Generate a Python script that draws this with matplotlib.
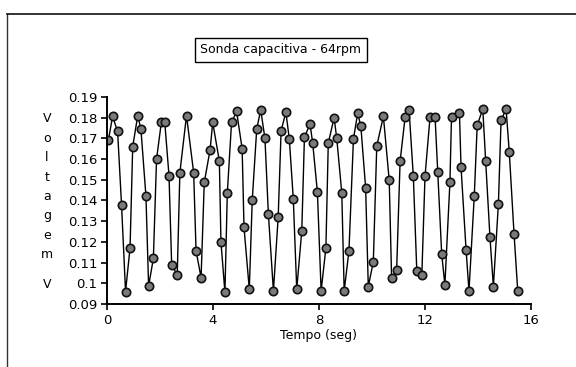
import matplotlib.pyplot as plt
from matplotlib.lines import Line2D

# Capacitive probe reading at 64 rpm (time in s, voltage in V)
tempo = [0.05, 0.21, 0.40, 0.55, 0.70, 0.87, 0.97, 1.16, 1.28, 1.47,
         1.57, 1.75, 1.87, 2.05, 2.18, 2.34, 2.44, 2.65, 2.75, 3.00,
         3.27, 3.36, 3.55, 3.67, 3.89, 3.99, 4.24, 4.30, 4.45, 4.54,
         4.70, 4.89, 5.10, 5.17, 5.37, 5.48, 5.65, 5.80, 5.96, 6.09,
         6.28, 6.46, 6.57, 6.75, 6.88, 7.03, 7.16, 7.35, 7.45, 7.66,
         7.76, 7.94, 8.08, 8.26, 8.35, 8.57, 8.67, 8.86, 8.95, 9.13,
         9.30, 9.46, 9.58, 9.76, 9.86, 10.05, 10.18, 10.43, 10.65, 10.74,
         10.93, 11.06, 11.25, 11.40, 11.56, 11.69, 11.88, 12.00, 12.19, 12.38,
         12.48, 12.63, 12.75, 12.94, 13.00, 13.30, 13.36, 13.55, 13.66, 13.86,
         13.97, 14.18, 14.29, 14.45, 14.58, 14.77, 14.87, 15.06, 15.18, 15.36,
         15.50]
voltagem = [0.169, 0.1806, 0.1734, 0.1376, 0.096, 0.1172, 0.166, 0.181, 0.1745, 0.142,
            0.0987, 0.112, 0.160, 0.1777, 0.1777, 0.152, 0.109, 0.104, 0.1535, 0.181,
            0.1535, 0.1158, 0.1027, 0.1487, 0.1645, 0.1777, 0.159, 0.120, 0.0957, 0.1436,
            0.1777, 0.183, 0.165, 0.127, 0.0971, 0.140, 0.1745, 0.1838, 0.170, 0.1334,
            0.0963, 0.132, 0.1737, 0.1827, 0.1697, 0.1408, 0.0971, 0.1253, 0.1705, 0.177,
            0.168, 0.144, 0.0963, 0.117, 0.1677, 0.180, 0.170, 0.1436, 0.0963, 0.1156,
            0.1697, 0.1822, 0.1758, 0.146, 0.0984, 0.1105, 0.1664, 0.1806, 0.1497, 0.1024,
            0.1065, 0.1589, 0.1803, 0.1835, 0.1516, 0.1061, 0.104, 0.1516, 0.1803, 0.1803,
            0.154, 0.1142, 0.0992, 0.1487, 0.1803, 0.1822, 0.156, 0.1161, 0.0963, 0.1424,
            0.1763, 0.1842, 0.1589, 0.1226, 0.0984, 0.1384, 0.1787, 0.1842, 0.1634, 0.1239,
            0.0963]

xticks = [0, 4, 8, 12, 16]
yticks = [0.09, 0.10, 0.11, 0.12, 0.13, 0.14, 0.15, 0.16, 0.17, 0.18, 0.19]
ytick_labels = ['0.09', '0.1', '0.11', '0.12', '0.13', '0.14', '0.15',
                '0.16', '0.17', '0.18', '0.19']

W, H = 576, 367
fig = plt.figure(figsize=(W / 100, H / 100), dpi=100)
fig.patch.set_facecolor('white')
ax = fig.add_axes([107 / W, 1 - 304 / H, 424 / W, 207 / H])

ax.plot(tempo, voltagem, color='black', lw=1.0, marker='o', markersize=6,
        markerfacecolor='#7a7a7a', markeredgecolor='#111111', markeredgewidth=1.2)

ax.set_xlim(0, 16)
ax.set_ylim(0.09, 0.19)
ax.set_xticks(xticks)
ax.set_xticklabels([str(t) for t in xticks], fontsize=9.5)
ax.set_yticks(yticks)
ax.set_yticklabels(ytick_labels, fontsize=9.5)
ax.tick_params(axis='both', direction='out', length=4, width=1.2, pad=3, colors='black')

for side in ['top', 'right']:
    ax.spines[side].set_visible(False)
for side in ['left', 'bottom']:
    ax.spines[side].set_linewidth(1.4)

ax.set_xlabel('Tempo (seg)', fontsize=9, labelpad=2)

# stacked vertical axis label
for i, ch in enumerate('Voltagem'):
    fig.text(47 / W, 1 - (119 + i * 19.4) / H, ch, ha='center', va='center', fontsize=9)
fig.text(47 / W, 1 - 284 / H, 'V', ha='center', va='center', fontsize=9)

# boxed title
fig.text(281 / W, 1 - 50 / H, 'Sonda capacitiva - 64rpm', ha='center', va='center',
         fontsize=9, bbox=dict(boxstyle='square,pad=0.45', facecolor='white',
                               edgecolor='black', linewidth=1.0))

# outer frame
fig.add_artist(Line2D([7 / W, 7 / W], [0, 1 - 14 / H], color='#333333', lw=1.0,
                      transform=fig.transFigure))
fig.add_artist(Line2D([7 / W, 1], [1 - 14 / H, 1 - 14 / H], color='#111111', lw=1.2,
                      transform=fig.transFigure))

fig.savefig('out.png', dpi=100)
